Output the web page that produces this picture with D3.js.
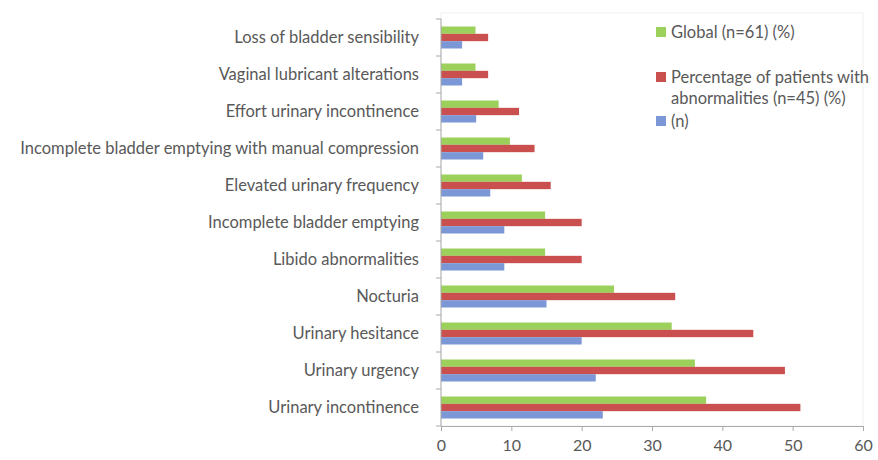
<!DOCTYPE html>
<html>
<head>
<meta charset="utf-8">
<script src="https://cdn.jsdelivr.net/npm/d3@7"></script>
<style>
  body { margin: 0; background: #fff; }
  svg text { font-family: Lato, "Open Sans", sans-serif; fill: #595959; }
</style>
</head>
<body>
<svg id="chart" width="878" height="460"></svg>
<script>
// categories from bottom to top as in the picture
const categories = [
  "Urinary incontinence",
  "Urinary urgency",
  "Urinary hesitance",
  "Nocturia",
  "Libido abnormalities",
  "Incomplete bladder emptying",
  "Elevated urinary frequency",
  "Incomplete bladder emptying with manual compression",
  "Effort urinary incontinence",
  "Vaginal lubricant alterations",
  "Loss of bladder sensibility"
];
const globalPct = [37.7, 36.1, 32.8, 24.6, 14.8, 14.8, 11.5, 9.8, 8.2, 4.9, 4.9];
const abnormalPct = [51.1, 48.9, 44.4, 33.3, 20.0, 20.0, 15.6, 13.3, 11.1, 6.7, 6.7];
const counts = [23, 22, 20, 15, 9, 9, 7, 6, 5, 3, 3];
const xTicks = [0, 10, 20, 30, 40, 50, 60];

const series = [
  { key: "global", name: ["Global (n=61) (%)"], values: globalPct, color: "#9bd05b" },
  { key: "abn", name: ["Percentage  of patients with", "abnormalities (n=45) (%)"], values: abnormalPct, color: "#c9504e" },
  { key: "n", name: ["(n)"], values: counts, color: "#7b97d6" }
];

let svg = d3.select("#chart");
let plotLeft = 441, plotRight = 863, plotTop = 19, plotBottom = 426;

// faint chart-area frame
svg.append("rect")
  .attr("x", plotLeft).attr("y", 13)
  .attr("width", plotRight - plotLeft).attr("height", plotBottom - 13)
  .attr("fill", "none").attr("stroke", "#f0f0f0");

let x = d3.scaleLinear().domain([0, 60]).range([plotLeft, plotRight]);
// reversed so first category sits at the bottom
let y = d3.scaleBand().domain(categories.slice().reverse()).range([plotTop, plotBottom]);
let inner = d3.scaleBand().domain(series.map(s => s.key)).range([7.5, y.bandwidth() - 7.5]);

series.forEach(function(s){
  svg.append("g").selectAll("rect")
    .data(categories.map((c, i) => ({ cat: c, v: s.values[i] })))
    .join("rect")
      .attr("x", x(0))
      .attr("y", d => y(d.cat) + inner(s.key))
      .attr("width", d => x(d.v) - x(0))
      .attr("height", inner.bandwidth())
      .attr("fill", s.color);
});

// x axis
let xAxis = svg.append("g")
  .attr("transform", "translate(0," + plotBottom + ")")
  .call(d3.axisBottom(x).tickValues(xTicks).tickSize(5).tickPadding(9));
xAxis.select(".domain").attr("stroke", "#aaa");
xAxis.selectAll("line").attr("stroke", "#aaa");
xAxis.selectAll("text").style("font-size", "16px").attr("fill", "#595959");

// y axis, ticks on band edges
let yAxis = svg.append("g").attr("transform", "translate(" + plotLeft + ",0)");
yAxis.append("line")
  .attr("y1", plotTop).attr("y2", plotBottom)
  .attr("stroke", "#aaa");
yAxis.selectAll(".tk")
  .data(d3.range(categories.length + 1))
  .join("line")
    .attr("x1", -5).attr("x2", 0)
    .attr("y1", i => plotTop + i * y.step())
    .attr("y2", i => plotTop + i * y.step())
    .attr("stroke", "#aaa");
yAxis.selectAll("text")
  .data(categories)
  .join("text")
    .attr("x", -22)
    .attr("y", d => y(d) + y.bandwidth() / 2)
    .attr("dy", "0.35em")
    .attr("text-anchor", "end")
    .style("font-size", "16.5px")
    .text(d => d);

// legend
let legendY = [32, 77, 121];
series.forEach(function(s, i){
  let g = svg.append("g").attr("transform", "translate(656," + legendY[i] + ")");
  g.append("rect")
    .attr("x", 0).attr("y", -5)
    .attr("width", 10).attr("height", 10)
    .attr("fill", s.color);
  s.name.forEach(function(line, j){
    g.append("text")
      .attr("x", 15).attr("y", j * 21)
      .attr("dy", "0.35em")
      .style("font-size", "16.5px")
      .text(line);
  });
});
</script>
</body>
</html>
